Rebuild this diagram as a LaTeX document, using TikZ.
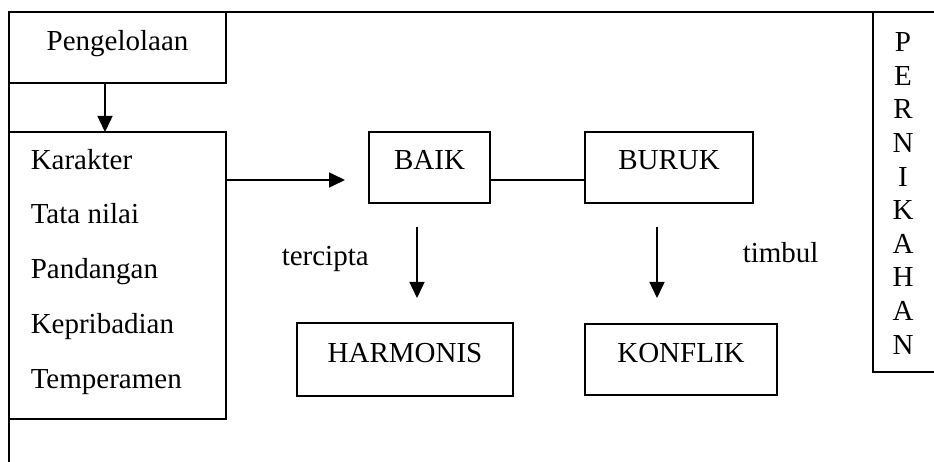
\documentclass[tikz,border=0pt]{standalone}
\usepackage{fontspec}
\setmainfont{Liberation Serif}
\usetikzlibrary{arrows.meta}
\begin{document}
\begin{tikzpicture}[x=1pt,y=-1pt,
  line width=1.5pt,
  box/.style={draw, line width=1.5pt, rectangle, inner sep=0pt, outer sep=0pt, anchor=north west},
  txt/.style={font=\fontsize{29}{33}\selectfont, inner sep=0pt, anchor=base},
  ltxt/.style={txt, anchor=base west},
  arr/.style={-{Triangle[width=15pt,length=16pt]}}
]
\useasboundingbox (0,0) rectangle (934,462);
% boxes
\node[box, minimum width=217pt, minimum height=71pt] (peng) at (9,12) {};
\node[box, minimum width=217pt, minimum height=287pt] (kar) at (9,132) {};
\node[box, minimum width=90pt, minimum height=360pt] (pern) at (873,12) {};
\node[box, minimum width=121pt, minimum height=71pt] (baik) at (369,132) {};
\node[box, minimum width=168pt, minimum height=71pt] (buruk) at (585,132) {};
\node[box, minimum width=216pt, minimum height=73pt] (harm) at (297,323) {};
\node[box, minimum width=192pt, minimum height=71pt] (konf) at (585,324) {};
% texts
\node[txt] (pengt) at (117.5,51) {Pengelolaan};
\node[ltxt] (t1) at (30,170) {Karakter};
\node[ltxt] (t2) at (30,224) {Tata nilai};
\node[ltxt] (t3) at (30,279) {Pandangan};
\node[ltxt] (t4) at (30,333) {Kepribadian};
\node[ltxt] (t5) at (30,388) {Temperamen};
\node[txt] (baikt) at (429.5,170) {BAIK};
\node[txt] (burukt) at (669,170) {BURUK};
\node[txt] (harmt) at (405,362) {HARMONIS};
\node[txt] (konft) at (681,362) {KONFLIK};
\node[ltxt] (terc) at (281,266) {tercipta};
\node[ltxt] (timb) at (742,263) {timbul};
\node[font=\fontsize{29}{33.6}\selectfont, align=center, inner sep=0pt, anchor=north] (pernt) at (903,32) {P\\E\\R\\N\\I\\K\\A\\H\\A\\N};
% connectors
\coordinate (bottom) at (9,470);
\coordinate (k2b) at (345,180);
\coordinate (a1s) at (417,227);
\coordinate (a1e) at (417,298);
\coordinate (a2s) at (657,227);
\coordinate (a2e) at (657,298);
\draw (peng.north east) -- (pern.north west);
\draw (peng.south west) -- (kar.north west);
\draw (kar.south west) -- (bottom);
\draw[arr] ([xshift=-12.5pt]peng.south) -- ([xshift=-12.5pt]kar.north);
\draw[arr] (kar.east |- k2b) -- (k2b);
\draw (baik.east |- k2b) -- (buruk.west |- k2b);
\draw[arr] (a1s) -- (a1e);
\draw[arr] (a2s) -- (a2e);
\end{tikzpicture}
\end{document}
